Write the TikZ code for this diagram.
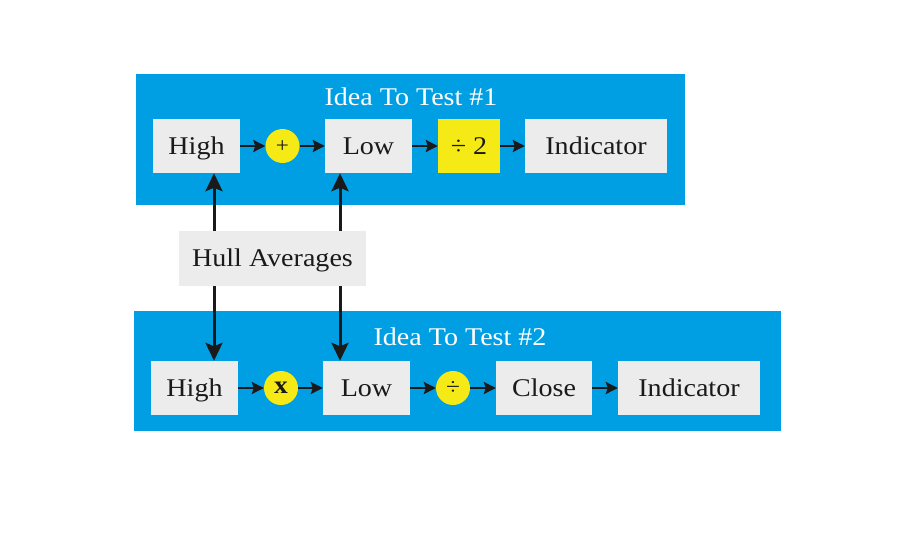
\documentclass[tikz,border=0pt]{standalone}
\usepackage{fontspec}
\setmainfont[FakeStretch=1.1]{Liberation Serif}
\usetikzlibrary{arrows.meta}
\definecolor{bluebg}{RGB}{0,159,227}
\definecolor{boxgray}{RGB}{236,236,236}
\definecolor{yel}{RGB}{246,234,22}
\definecolor{ink}{RGB}{26,26,26}
\begin{document}
\begin{tikzpicture}[x=1pt,y=-1pt,
  box/.style={fill=boxgray, inner sep=0pt, text=ink, minimum height=54pt, text height=16.8pt, text depth=0pt, font=\fontsize{25.5}{30}\selectfont},
  ybox/.style={box, fill=yel},
  op/.style={circle, fill=yel, inner sep=0pt, minimum size=34pt, text=ink, text height=12.2pt, text depth=0pt, font=\fontsize{21}{26}\selectfont},
  title/.style={text=white, text height=17pt, text depth=0pt, font=\fontsize{25.5}{30}\selectfont},
  arr/.style={draw=ink, line width=2.4pt, -{Stealth[length=12pt,width=12pt,inset=2pt]}},
  varr/.style={draw=ink, line width=3pt, -{Stealth[length=18pt,width=17pt,inset=3.5pt]}}]
\useasboundingbox (0,0) rectangle (907,539);
\fill[white] (0,0) rectangle (907,539);
% panels
\fill[bluebg] (136,74) rectangle (685,205);
\fill[bluebg] (134,311) rectangle (781,431);
\node[title] (t1) at (411,97) {Idea To Test \#1};
\node[title] (t2) at (460,337) {Idea To Test \#2};
% row 1
\node[box, minimum width=87pt] (h1) at (196.5,146) {High};
\node[op] (p1) at (282.5,146) {+};
\node[box, minimum width=87pt] (l1) at (368.5,146) {Low};
\node[ybox, minimum width=62pt] (d1) at (469,146) {÷ 2};
\node[box, minimum width=142pt] (i1) at (596,146) {Indicator};
% hull
\node[box, minimum width=187pt, minimum height=55pt] (hull) at (272.5,258.5) {Hull Averages};
% row 2
\node[box, minimum width=87pt] (h2) at (194.5,388) {High};
\node[op, text height=11pt, font=\fontsize{25}{28}\selectfont\bfseries] (x2) at (281,388) {x};
\node[box, minimum width=87pt] (l2) at (366.5,388) {Low};
\node[op, text height=12.8pt, font=\fontsize{23}{26}\selectfont] (d2) at (453,388) {÷};
\node[box, minimum width=96pt] (c2) at (544,388) {Close};
\node[box, minimum width=142pt] (i2) at (689,388) {Indicator};
% horizontal arrows
\draw[arr] (h1) -- (p1);
\draw[arr] (p1) -- (l1);
\draw[arr] (l1) -- (d1);
\draw[arr] (d1) -- (i1);
\draw[arr] (h2) -- (x2);
\draw[arr] (x2) -- (l2);
\draw[arr] (l2) -- (d2);
\draw[arr] (d2) -- (c2);
\draw[arr] (c2) -- (i2);
% vertical arrows
\coordinate (va) at (214,0);
\coordinate (vb) at (340,0);
\draw[varr] (hull.north -| va) -- (h1.south -| va);
\draw[varr] (hull.north -| vb) -- (l1.south -| vb);
\draw[varr] (hull.south -| va) -- (h2.north -| va);
\draw[varr] (hull.south -| vb) -- (l2.north -| vb);
\end{tikzpicture}
\end{document}
